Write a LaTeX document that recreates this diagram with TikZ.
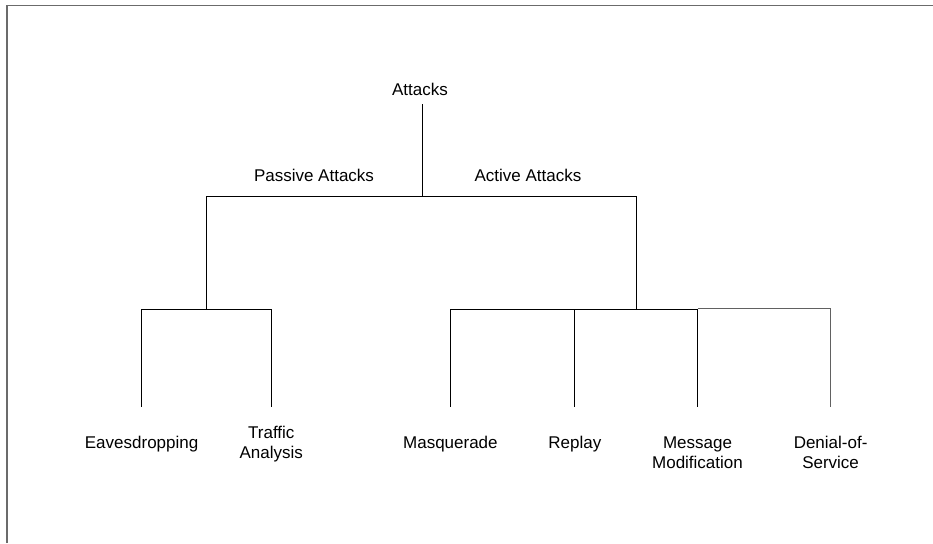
\documentclass[tikz,border=0pt]{standalone}
\usepackage{fontspec}
\setmainfont{Liberation Sans}
\begin{document}
\begin{tikzpicture}[x=1pt,y=-1pt,
  lbl/.style={inner sep=0pt, anchor=base, align=center,
    font=\fontsize{17}{20}\selectfont},
  branch/.style={draw=black, line width=1pt},
  greybranch/.style={draw=black!62, line width=1.7pt},
  frame/.style={draw=black!58, line width=1.7pt}]
  % page area
  \useasboundingbox (0,0) rectangle (933,543);
  % open frame (top and left edges)
  \draw[frame] (7,543) -- (7,5.5) -- (933,5.5);

  % labels (two-line labels sit on the baseline of their last line)
  \node[lbl] (attacks) at (420,95) {Attacks};
  \node[lbl] (passive) at (314,181) {Passive Attacks};
  \node[lbl] (active)  at (528,181) {Active Attacks};
  \node[lbl] (eaves)   at (141.6,448.6) {Eavesdropping};
  \node[lbl] (traffic) at (271.3,458) {Traffic\\Analysis};
  \node[lbl] (masq)    at (450.4,448.6) {Masquerade};
  \node[lbl] (replay)  at (574.8,448.6) {Replay};
  \node[lbl] (modif)   at (697.5,468.4) {Message\\Modification};
  \node[lbl] (dos)     at (830.6,468.4) {Denial-of-\\Service};

  % junction points of the tree
  \coordinate (rootTop) at (422,104);
  \coordinate (rootJ)   at (422,196);
  \coordinate (passJ)   at (206.5,196);
  \coordinate (actJ)    at (636.6,196);
  \coordinate (passB)   at (206.5,309);
  \coordinate (actB)    at (636.6,309);
  \coordinate (eavesT)  at (141.6,309);
  \coordinate (trafT)   at (271.3,309);
  \coordinate (masqT)   at (450.4,309);
  \coordinate (replT)   at (574.8,309);
  \coordinate (modT)    at (697.5,309);
  \coordinate (dosT)    at (830.6,308.6);
  \coordinate (eavesE)  at (141.6,407);
  \coordinate (trafE)   at (271.3,407);
  \coordinate (masqE)   at (450.4,407);
  \coordinate (replE)   at (574.8,407);
  \coordinate (modE)    at (697.5,407);
  \coordinate (dosE)    at (830.6,407);

  % root to the two classes
  \draw[branch] (rootTop) -- (rootJ);
  \draw[branch] (passJ) -- (actJ);
  \draw[branch] (passJ) -- (passB);
  \draw[branch] (actJ) -- (actB);

  % passive attacks
  \draw[branch] (eavesT) -- (trafT);
  \draw[branch] (eavesT) -- (eavesE);
  \draw[branch] (trafT) -- (trafE);

  % active attacks
  \draw[branch] (masqT) -- (modT);
  \draw[branch] (masqT) -- (masqE);
  \draw[branch] (replT) -- (replE);
  \draw[branch] (modT) -- (modE);
  \draw[greybranch] (modT |- dosT) -- (dosT);
  \draw[greybranch] (dosT) -- (dosE);
\end{tikzpicture}
\end{document}
